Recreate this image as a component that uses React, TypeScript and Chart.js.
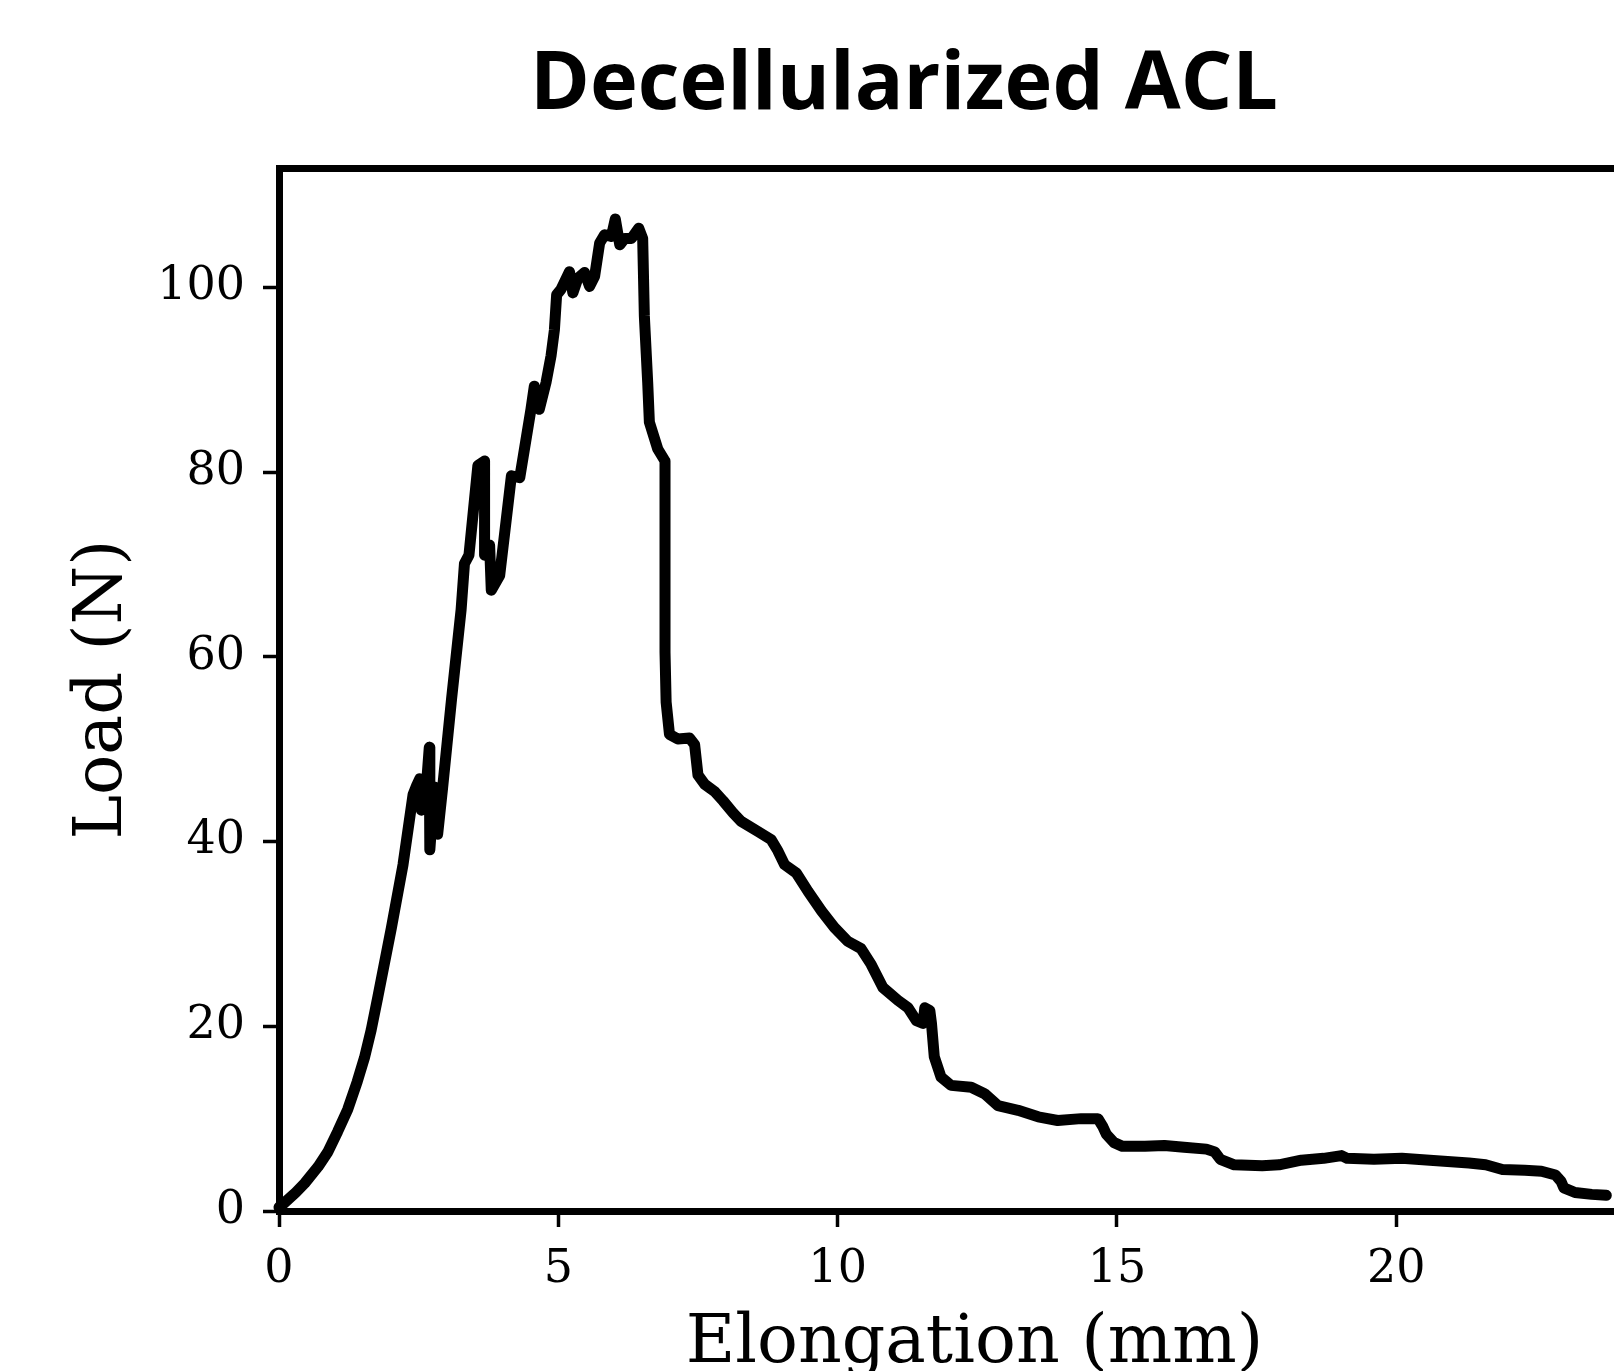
import React, { useEffect, useRef } from "react";
import { Chart, registerables } from "chart.js";

Chart.register(...registerables);

const titleText = "Decellularized ACL";
const xLabel = "Elongation (mm)";
const yLabel = "Load (N)";

const xTicks = [0, 5, 10, 15, 20];
const yTicks = [0, 20, 40, 60, 80, 100];
const xMax = 24.9;
const yMax = 112.9;

const elongation = [
  0, 0.1, 0.3, 0.46, 0.7, 0.875, 1.05, 1.23, 1.4, 1.53, 1.65, 1.77, 2.01, 2.22, 2.4, 2.46, 2.52, 2.55, 2.62, 2.69, 2.7,
  2.78, 2.84, 2.93, 3.09, 3.26, 3.32, 3.4, 3.56, 3.68, 3.68, 3.77, 3.8, 3.95, 4.16, 4.31, 4.51, 4.57, 4.66, 4.78,
  4.87, 4.93, 4.97, 5.05, 5.2, 5.26, 5.35, 5.47, 5.56, 5.65, 5.74, 5.83, 5.95, 6.02, 6.1, 6.19, 6.31, 6.44, 6.51,
  6.54, 6.6, 6.63, 6.78, 6.91, 6.91, 6.93, 6.99, 7.14, 7.35, 7.44, 7.5, 7.62, 7.8, 7.95, 8.13, 8.27, 8.57, 8.81,
  8.93, 9.05, 9.26, 9.47, 9.71, 9.94, 10.18, 10.42, 10.6, 10.81, 11.08, 11.26, 11.41, 11.53, 11.56, 11.65, 11.68,
  11.73, 11.85, 12.03, 12.39, 12.63, 12.87, 13.23, 13.59, 13.94, 14.36, 14.66, 14.75, 14.81, 14.95, 15.1, 15.5,
  15.85, 16.2, 16.6, 16.75, 16.85, 17.1, 17.6, 17.9, 18.3, 18.7, 19.02, 19.12, 19.6, 20.1, 20.6, 21.3, 21.6, 21.9,
  22.3, 22.6, 22.85, 22.95, 23.0, 23.2, 23.5, 23.76,
];

const load = [
  0.4, 0.9, 2.0, 3.0, 4.8, 6.4, 8.6, 11.0, 14.0, 16.6, 19.6, 23.2, 30.6, 37.5, 45.1, 46.0, 46.8, 43.4, 44.5, 50.2, 39.1,
  45.9, 40.8, 45.9, 55.5, 65.1, 70.1, 71.0, 80.7, 81.2, 71.0, 72.1, 67.2, 68.8, 79.6, 79.4, 86.8, 89.3, 86.8, 89.7,
  92.6, 95.4, 99.2, 99.8, 101.7, 99.4, 101.0, 101.6, 100.1, 101.2, 104.8, 105.7, 105.5, 107.4, 104.6, 105.3, 105.3,
  106.4, 105.3, 96.9, 89.7, 85.4, 82.5, 81.2, 60.5, 55.1, 51.6, 51.1, 51.2, 50.5, 47.2, 46.2, 45.4, 44.4, 43.1, 42.2,
  41.1, 40.2, 39.0, 37.5, 36.6, 34.6, 32.5, 30.7, 29.2, 28.4, 26.7, 24.2, 22.8, 22.0, 20.6, 20.3, 22.0, 21.7, 20.3,
  16.7, 14.5, 13.6, 13.4, 12.7, 11.4, 10.9, 10.2, 9.8, 10.0, 10.0, 9.1, 8.3, 7.4, 7.0, 7.0,
  7.1, 6.9, 6.7, 6.4, 5.6, 5.0, 4.9, 5.0, 5.5, 5.7, 6.0, 5.7, 5.6, 5.7, 5.5, 5.2, 5.0, 4.5,
  4.4, 4.3, 3.9, 3.2, 2.5, 2.0, 1.8, 1.7,
];

const CANVAS_W = 1808;
const CANVAS_H = 1371;
const AREA_LEFT = 279;
const AREA_RIGHT = 1670;
const AREA_BOTTOM = 1211;

export default function App() {
  const ref = useRef<HTMLCanvasElement | null>(null);

  useEffect(() => {
    if (!ref.current) return;
    const points = elongation.map((x, i) => ({ x, y: load[i] }));
    const serif = "'DejaVu Serif', serif";
    const chart = new Chart(ref.current, {
      type: "scatter",
      data: {
        datasets: [
          {
            data: points,
            showLine: true,
            borderColor: "#000000",
            backgroundColor: "#000000",
            borderWidth: 11,
            pointRadius: 0,
            borderCapStyle: "round",
            borderJoinStyle: "round",
            tension: 0,
            clip: false as any,
          },
        ],
      },
      options: {
        animation: false,
        responsive: false,
        devicePixelRatio: 1,
        layout: { padding: 0 },
        plugins: {
          legend: { display: false },
          tooltip: { enabled: false },
          title: {
            display: true,
            text: titleText,
            color: "#000000",
            font: { family: "'Open Sans', sans-serif", weight: "bold", size: 81, lineHeight: 1.2 },
            padding: { top: 37, bottom: 34 },
          },
        },
        scales: {
          x: {
            type: "linear",
            position: "bottom",
            min: 0,
            max: xMax,
            afterBuildTicks: (s: any) => {
              s.ticks = xTicks.map((v) => ({ value: v }));
            },
            afterFit: (s: any) => {
              s.height = CANVAS_H - AREA_BOTTOM;
            },
            ticks: {
              color: "#000000",
              font: { family: serif, size: 46, lineHeight: 1.2 },
              padding: 15,
              maxRotation: 0,
            },
            grid: {
              drawOnChartArea: false,
              drawTicks: true,
              tickLength: 16,
              tickWidth: 3.5,
              tickColor: "#000000",
            },
            border: { display: true, color: "#000000", width: 7 },
            title: {
              display: true,
              text: xLabel,
              color: "#000000",
              font: { family: serif, size: 68, lineHeight: 0.78 },
              padding: { top: 0, bottom: 0 },
            },
          },
          xTop: {
            type: "linear",
            position: "top",
            min: 0,
            max: xMax,
            ticks: { display: false },
            grid: { display: false, drawTicks: false },
            border: { display: true, color: "#000000", width: 7 },
            afterFit: (s: any) => {
              s.height = 0;
            },
          },
          y: {
            type: "linear",
            position: "left",
            min: 0,
            max: yMax,
            afterBuildTicks: (s: any) => {
              s.ticks = yTicks.map((v) => ({ value: v }));
            },
            afterFit: (s: any) => {
              s.width = AREA_LEFT;
            },
            ticks: {
              color: "#000000",
              font: { family: serif, size: 46, lineHeight: 1.2 },
              padding: 18,
            },
            grid: {
              drawOnChartArea: false,
              drawTicks: true,
              tickLength: 16,
              tickWidth: 3.5,
              tickColor: "#000000",
            },
            border: { display: true, color: "#000000", width: 7 },
            title: {
              display: true,
              text: yLabel,
              color: "#000000",
              font: { family: serif, size: 67, lineHeight: 1 },
              padding: { top: 70, bottom: 0 },
            },
          },
          yRight: {
            type: "linear",
            position: "right",
            min: 0,
            max: yMax,
            ticks: { display: false },
            grid: { display: false, drawTicks: false },
            border: { display: true, color: "#000000", width: 7 },
            afterFit: (s: any) => {
              s.width = CANVAS_W - AREA_RIGHT;
            },
          },
        },
      } as any,
    });
    return () => chart.destroy();
  }, []);

  return (
    <div
      style={{
        position: "fixed",
        left: 0,
        top: 0,
        width: "1614px",
        height: "1371px",
        overflow: "hidden",
        background: "#ffffff",
      }}
    >
      <canvas
        ref={ref}
        width={CANVAS_W}
        height={CANVAS_H}
        style={{ width: `${CANVAS_W}px`, height: `${CANVAS_H}px`, display: "block" }}
      />
    </div>
  );
}
